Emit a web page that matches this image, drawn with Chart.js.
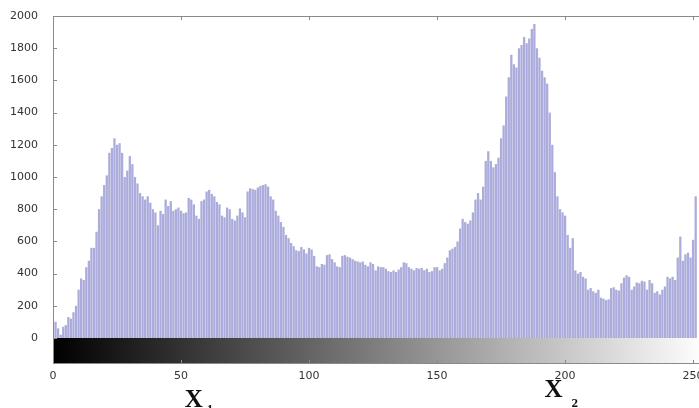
<!DOCTYPE html>
<html>
<head>
<meta charset="utf-8">
<script src="https://cdn.jsdelivr.net/npm/chart.js@4/dist/chart.umd.min.js"></script>
<style>
  html, body { margin: 0; padding: 0; background: #fff; }
  #wrap { width: 699px; height: 408px; }
</style>
</head>
<body>
<div id="wrap"><canvas id="hist" width="699" height="408"></canvas></div>
<script>
// histogram counts per grey level (0..251 visible in the picture)
const COUNTS = [
  110, 100, 60, 20, 70, 80, 130, 120, 160, 200,
  300, 370, 360, 440, 480, 560, 560, 660, 800, 880,
  950, 1010, 1150, 1180, 1240, 1200, 1210, 1150, 1000, 1040,
  1130, 1080, 1000, 960, 900, 880, 860, 880, 840, 800,
  780, 700, 790, 770, 860, 820, 850, 790, 800, 810,
  790, 775, 780, 870, 860, 830, 760, 740, 850, 860,
  910, 920, 895, 880, 845, 830, 760, 750, 810, 800,
  740, 730, 760, 805, 780, 750, 910, 930, 925, 920,
  935, 945, 950, 955, 940, 880, 860, 790, 760, 720,
  690, 640, 620, 590, 570, 545, 540, 565, 550, 525,
  560, 550, 510, 445, 440, 460, 455, 515, 520, 490,
  470, 445, 440, 510, 515, 505, 500, 490, 480, 475,
  470, 475, 455, 445, 470, 460, 420, 445, 440, 440,
  430, 415, 410, 420, 410, 425, 440, 470, 465, 440,
  430, 420, 435, 430, 435, 420, 430, 410, 415, 440,
  440, 420, 430, 465, 500, 545, 555, 565, 600, 680,
  740, 720, 710, 730, 780, 860, 900, 860, 940, 1100,
  1160, 1100, 1060, 1080, 1120, 1240, 1320, 1500, 1620, 1760,
  1700, 1680, 1800, 1820, 1870, 1830, 1860, 1920, 1950, 1800,
  1740, 1660, 1620, 1580, 1400, 1200, 1030, 880, 800, 780,
  760, 640, 560, 620, 420, 400, 410, 380, 370, 300,
  310, 290, 280, 300, 250, 245, 235, 240, 310, 315,
  300, 295, 340, 375, 390, 380, 300, 320, 345, 340,
  355, 350, 300, 360, 340, 280, 290, 270, 300, 320,
  380, 370, 380, 360, 500, 630, 480, 520, 530, 500,
  610, 880
];
const BINS = COUNTS.map((_, i) => i);   // grey level of each bin

const Y_TICKS = [0, 200, 400, 600, 800, 1000, 1200, 1400, 1600, 1800, 2000];
const X_TICKS = [0, 50, 100, 150, 200, 250];
const AXIS_LABELS = [
  { text: "X", sub: "1", at: 55, base: 407, subDx: 13, subDy: 6 },
  { text: "X", sub: "2", at: 195.5, base: 397, subDx: 18, subDy: 10 }
];

const TICK_FONT = { family: "'DejaVu Sans', sans-serif", size: 11 };
const FRAME = "#8a8a8a";
const BAR_H = 25;   // height of the grey ramp under the axis

// grey ramp, frame, inward ticks, X1 / X2
const framePlugin = {
  id: "frame",
  afterDatasetsDraw(chart){
    const { ctx, chartArea: a, scales: { x, y } } = chart;
    ctx.save();

    const g = ctx.createLinearGradient(x.getPixelForValue(0), 0, x.getPixelForValue(255), 0);
    g.addColorStop(0, "#000");
    g.addColorStop(1, "#fff");
    ctx.fillStyle = g;
    ctx.fillRect(a.left, a.bottom, a.right - a.left, BAR_H);

    ctx.strokeStyle = FRAME;
    ctx.lineWidth = 1;
    ctx.beginPath();
    ctx.moveTo(a.left, a.top + 0.5); ctx.lineTo(a.right, a.top + 0.5);
    ctx.moveTo(a.left, a.bottom + BAR_H + 0.5); ctx.lineTo(a.right, a.bottom + BAR_H + 0.5);
    ctx.moveTo(a.left + 0.5, a.top); ctx.lineTo(a.left + 0.5, a.bottom + BAR_H);
    Y_TICKS.forEach(v => {
      const py = Math.round(y.getPixelForValue(v)) + 0.5;
      ctx.moveTo(a.left, py); ctx.lineTo(a.left + 4, py);
    });
    X_TICKS.forEach(v => {
      const px = Math.round(x.getPixelForValue(v)) + 0.5;
      ctx.moveTo(px, a.top); ctx.lineTo(px, a.top + 4);
      ctx.moveTo(px, a.bottom + BAR_H); ctx.lineTo(px, a.bottom + BAR_H - 3);
    });
    ctx.stroke();

    ctx.fillStyle = "#111";
    ctx.textBaseline = "alphabetic";
    AXIS_LABELS.forEach(l => {
      const px = x.getPixelForValue(l.at);
      ctx.font = "bold 25px 'Liberation Serif', serif";
      ctx.textAlign = "center";
      ctx.fillText(l.text, px, l.base);
      ctx.font = "bold 13px 'Liberation Serif', serif";
      ctx.textAlign = "left";
      ctx.fillText(l.sub, px + l.subDx, l.base + l.subDy);
    });
    ctx.restore();
  }
};

new Chart(document.getElementById("hist"), {
  type: "bar",
  data: {
    datasets: [{
      data: BINS.map((b, i) => ({ x: b, y: COUNTS[i] })),
      backgroundColor: "rgb(172,172,220)",
      borderWidth: 0,
      barPercentage: 0.9,
      categoryPercentage: 1
    }]
  },
  options: {
    responsive: false,
    animation: false,
    devicePixelRatio: 1,
    layout: { padding: { top: 16, left: 0, right: 0, bottom: 0 } },
    plugins: { legend: { display: false }, tooltip: { enabled: false } },
    scales: {
      x: {
        type: "linear",
        min: 0,
        max: 252.3,
        offset: false,
        grid: { display: false },
        border: { display: false },
        ticks: {
          autoSkip: false, maxRotation: 0,
          padding: 24, color: "#333", font: TICK_FONT,
          callback: v => String(v)
        },
        afterBuildTicks(s){ s.ticks = X_TICKS.map(v => ({ value: v })); },
        afterFit(s){ s.height = 70; s.paddingLeft = 0; s.paddingRight = 0; }
      },
      y: {
        min: 0,
        max: 2000,
        grid: { display: false },
        border: { display: false },
        ticks: { padding: 7, color: "#333", font: TICK_FONT, callback: v => String(v) },
        afterBuildTicks(s){ s.ticks = Y_TICKS.map(v => ({ value: v })); },
        afterFit(s){ s.width = 53; }
      }
    }
  },
  plugins: [framePlugin]
});
</script>
</body>
</html>
